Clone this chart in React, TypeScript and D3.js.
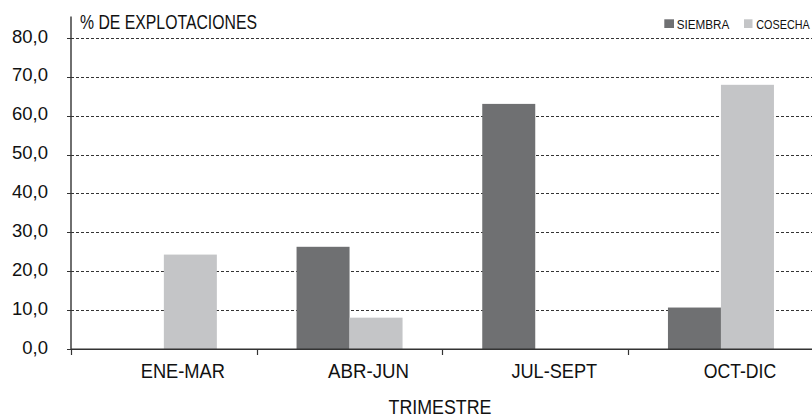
import React from "react";
import * as d3 from "d3";

const categories = ["ENE-MAR", "ABR-JUN", "JUL-SEPT", "OCT-DIC"];
const seriesNames = ["SIEMBRA", "COSECHA"];
const siembra = [0, 26.3, 63.0, 10.7];
const cosecha = [24.3, 8.1, 0, 67.9];
const yTicks = [0, 10, 20, 30, 40, 50, 60, 70, 80];
const colors = ["#6f7072", "#c4c5c7"];

const W = 812;
const H = 417;
const FONT = "'Liberation Sans', Arial, sans-serif";
const catLabelWidths = [84.3, 81, 85.7, 72.6];

export default function App() {
  const x = d3.scaleBand<string>().domain(categories).range([71, 71 + 4 * 185.7]).paddingInner(0).paddingOuter(0);
  const y = d3.scaleLinear().domain([0, 80]).range([349.2, 37.7]);
  const barW = 53;
  const series = [siembra, cosecha];
  const fmt = (v: number) => d3.format(".1f")(v).replace(".", ",");
  const ticksX = categories.map((c) => (x(c) as number)).concat([71 + 4 * 185.7]);

  return (
    <svg width={W} height={H} style={{ position: "absolute", left: 0, top: 0, background: "#fff" }}>
      <rect width={W} height={H} fill="#fff" />
      {yTicks.slice(1).map((t) => (
        <line key={"g" + t} x1={71} x2={W} y1={Math.round(y(t)) + 0.5} y2={Math.round(y(t)) + 0.5}
          stroke="#000" strokeWidth={0.8} strokeDasharray="3,2" />
      ))}
      {categories.map((c, i) => {
        const cx = (x(c) as number) + x.bandwidth() / 2;
        return series.map((s, j) => {
          const v = s[i];
          if (!v) return null;
          return (
            <rect key={c + j} x={cx - barW + j * barW} width={barW} y={y(v)} height={y(0) - y(v)} fill={colors[j]} />
          );
        });
      })}
      {/* axes */}
      <line x1={71} x2={71} y1={16.5} y2={350} stroke="#333" strokeWidth={1.4} />
      <line x1={71} x2={W} y1={349.2} y2={349.2} stroke="#333" strokeWidth={1.4} />
      {yTicks.map((t) => (
        <line key={"yt" + t} x1={67} x2={71} y1={Math.round(y(t)) + 0.5} y2={Math.round(y(t)) + 0.5} stroke="#333" strokeWidth={1} />
      ))}
      {ticksX.map((tx, i) => (
        <line key={"xt" + i} x1={Math.round(tx) + 0.5} x2={Math.round(tx) + 0.5} y1={349.5} y2={355} stroke="#333" strokeWidth={1.2} />
      ))}
      {yTicks.map((t) => (
        <text key={"yl" + t} x={48} y={y(t) + 4.8} textAnchor="end" fontFamily={FONT} fontSize={18.5} fill="#111">
          {fmt(t)}
        </text>
      ))}
      {categories.map((c, i) => (
        <text key={"xl" + c} x={(x(c) as number) + x.bandwidth() / 2 + 19} y={377.5} textAnchor="middle" fontFamily={FONT} fontSize={19.5} fill="#111"
          textLength={catLabelWidths[i]} lengthAdjust="spacingAndGlyphs">
          {c}
        </text>
      ))}
      <text x={440} y={414} textAnchor="middle" fontFamily={FONT} fontSize={20} fill="#111" textLength={103} lengthAdjust="spacingAndGlyphs">TRIMESTRE</text>
      <text x={80} y={29.3} fontFamily={FONT} fontSize={19.5} fill="#111" textLength={177} lengthAdjust="spacingAndGlyphs">% DE EXPLOTACIONES</text>
      {/* legend */}
      <rect x={664.3} y={19.3} width={9.7} height={8.7} fill={colors[0]} />
      <text x={676.7} y={28.7} fontFamily={FONT} fontSize={12} fill="#111" textLength={52.6} lengthAdjust="spacingAndGlyphs">{seriesNames[0]}</text>
      <rect x={744} y={19.3} width={8.5} height={8.7} fill={colors[1]} />
      <text x={756.3} y={28.7} fontFamily={FONT} fontSize={12} fill="#111" textLength={53.4} lengthAdjust="spacingAndGlyphs">{seriesNames[1]}</text>
    </svg>
  );
}
